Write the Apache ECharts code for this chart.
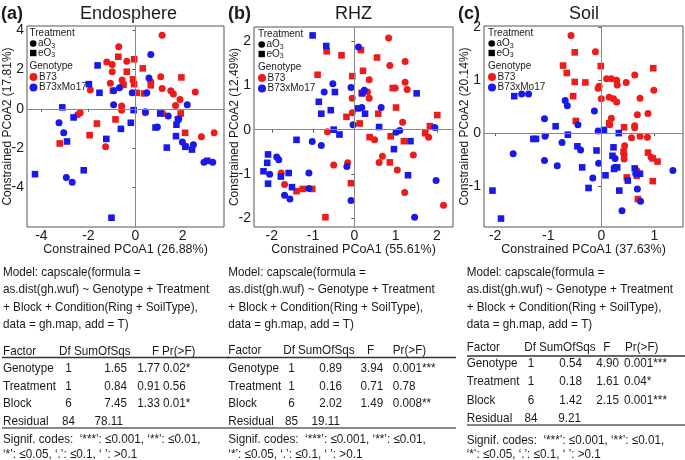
<!DOCTYPE html>
<html>
<head>
<meta charset="utf-8">
<script src="https://cdn.jsdelivr.net/npm/echarts@6/dist/echarts.min.js"></script>
<style>
  html, body { margin: 0; padding: 0; background: #fff; }
  #chart { width: 685px; height: 460px; }
</style>
</head>
<body>
<div id="chart"></div>
<script>
// ---- data: Endosphere ----
const endoB73Amb = [[1.13,3.73],[-0.71,3.15],[-1.22,2.37],[-0.99,2.25],[-0.37,2.41],[-0.99,1.88],[-1.07,1.29],[-0.57,1.46],[-0.54,1.2],[1.07,1.63],[0.65,1.37],[1.13,1.03],[1.5,0.92],[1.61,0.75],[1.89,0.47],[2.54,0.85],[1.7,0.17],[-1.92,0.95],[-2.35,-0.2],[-2.46,-0.31],[-0.59,0.14],[-0.59,-0.07],[0.42,-0.2],[1.16,-0.24],[-1.27,-1.93],[2.8,-1.42],[3.34,-1.22]];
const endoB73Elev = [[-0.73,2.64],[-0.06,2.51],[0.31,2.05],[-0.37,1.88],[-0.11,1.49],[-0.06,1.25],[-0.51,1.22],[-0.96,0.92],[0.06,0.81],[0.37,0.78],[0.65,1.19],[1.95,1.59],[1.92,-0.24],[-0.85,-0.54],[-1.64,-0.75],[-1.95,-1.34],[2.11,-1.22],[-3.22,-1.76]];
const endoHybAmb = [[0.65,2.76],[0.57,1.56],[-0.68,1.07],[-0.93,0.92],[-0.14,0.81],[0.48,0.81],[2.2,0.2],[-0.93,0.2],[0.42,-0.15],[1.39,-0.37],[-3.25,-0.71],[-3.05,-1.22],[1.99,-1.69],[2.12,-1.9],[2.46,-1.83],[2.91,-2.71],[3.28,-2.71],[-2.94,-3.49],[-2.69,-3.73],[0.93,-0.92],[1.84,-0.51]];
const endoHybElev = [[-1.61,2.2],[-1.98,1.25],[-1.53,0.81],[-3.11,0.07],[-2.63,-0.44],[-2.91,-1.66],[-1.24,-1.53],[-0.62,-1.02],[-0.2,-0.71],[-0.08,-0.07],[0.85,-0.95],[1.05,-0.24],[1.33,-1.97],[1.72,-1.39],[1.74,-0.81],[1.8,-0.54],[2.12,-1.93],[2.4,-2.07],[3.05,-2.64],[-4.27,-3.32],[-2.2,-3.12],[-1.02,-5.53]];

// ---- data: RHZ ----
const rhzB73Amb = [[0.83,2.07],[0.86,1.45],[1.23,1.54],[0.36,1.13],[1.23,1.07],[1.28,0.91],[0.99,0.94],[0.32,0.85],[0.36,0.71],[-0.05,0.71],[-0.05,0.38],[1.17,0.17],[-0.65,-0.05],[0.49,-0.23],[0.68,-0.6],[0.6,-0.74],[1.04,-0.91],[1.43,-0.57],[1.8,-0.17],[1.22,-1.42],[2.16,-1.71],[-0.5,-0.8],[-0.16,-0.75],[-1.77,-0.98],[-1.69,-1.24]];
const rhzB73Elev = [[-0.67,1.77],[-0.31,1.68],[0.16,1.8],[0.55,1.63],[0.21,1.33],[-0.89,1.24],[-0.05,1.21],[0.93,0.94],[0.18,0.83],[1.01,0.5],[-0.19,0.29],[0.58,0.36],[0.13,0.14],[2.01,0.33],[1.83,0.08],[1.72,-0.08],[0.37,-0.17],[0.88,-0.15],[1.2,-0.26],[0.86,-0.74],[-0.08,-1.21],[-1.4,-1.39],[-1.25,-1.34],[-1.02,-1.34],[-0.7,-1.98]];
const rhzHybAmb = [[0.1,1.87],[-0.52,1.04],[-0.73,0.85],[-0.08,0.95],[0.24,0.89],[0.18,0.5],[0.65,0.5],[-0.03,0.11],[1.01,-0.06],[1.1,-0.02],[1.95,0.05],[-1.02,-0.27],[-0.8,-0.36],[-0.18,-0.83],[-0.08,-1.6],[-1.1,-0.98],[-1.1,-1.33],[-1.88,-0.62],[-1.83,-0.68],[-2.05,-1.01],[-1.69,-1.48],[-1.56,-1.57],[1.98,-1.15],[1.46,-1.98]];
const rhzHybElev = [[-1.01,2.13],[-0.68,1.89],[-0.47,0.85],[-0.86,0.63],[-0.8,0.36],[-0.57,0.44],[0.19,0.82],[0.08,0.48],[0.26,0.36],[-0.5,0.0],[-0.36,-0.11],[-1.4,-0.23],[0.6,0.06],[1.51,0.82],[0.96,-0.44],[1.36,-0.26],[1.3,-1.03],[-2.09,-0.56],[-2.11,-0.75],[-2.2,-0.94],[-2.09,-1.22],[-1.78,-1.06],[-1.59,-0.98],[-1.51,-1.3]];

// ---- data: Soil ----
const soilB73Amb = [[-0.57,1.85],[-0.11,1.54],[0.1,1.03],[0.19,1.03],[0.29,1.0],[0.47,0.96],[0.63,1.1],[0.99,0.81],[-0.04,0.89],[-0.06,0.85],[0.3,0.91],[0,0.65],[0.15,0.68],[0.23,0.65],[0.29,0.59],[0.73,0.66],[0.68,0.35],[0.88,0.37],[0.19,0.28],[0.16,0.16],[0.63,0.14],[0.63,0.1],[0.57,-0.09],[0.73,-0.06],[0.87,-0.08],[0.44,-0.24],[0.43,-0.41],[0.43,-0.49],[0.94,-0.46],[0.67,-0.71]];
const soilB73Elev = [[-0.5,1.53],[-0.72,1.28],[-0.65,1.14],[-0.5,0.97],[-0.3,0.96],[-0.01,1.27],[-0.53,0.7],[0.98,1.23],[-0.48,0.23],[0.15,0.19],[0.43,0.11],[0.42,-0.35],[0.88,-0.37],[0.97,-0.48],[1.06,-0.54],[0.48,-0.84],[0.67,-0.81],[0.97,-0.91],[0.69,-1.25]];
const soilHybAmb = [[-1.5,0.74],[-1.37,0.74],[-0.68,0.62],[-0.64,0.52],[-1.07,0.27],[-0.44,0.16],[-0.13,0.42],[-0.06,0.04],[-1.06,-0.06],[-0.74,-0.18],[-0.39,-0.32],[-1.66,-0.39],[-1.07,-0.52],[-0.83,-0.62],[-0.16,-0.85],[-0.05,-0.57],[0.26,-0.48],[0.65,-0.77],[0.68,-1.06],[0.74,-1.29],[0.39,-1.47],[1.35,-0.71],[0.25,-0.65]];
const soilHybElev = [[-1.64,0.7],[-0.86,0.13],[-0.63,-0.03],[-1.28,-0.11],[-1.23,-0.11],[0.05,0.06],[0.33,0.0],[-0.45,-0.25],[-0.36,-0.65],[-0.09,-0.33],[0.23,-0.27],[0.21,-0.43],[0.3,-0.65],[0.24,-0.68],[0.08,-0.8],[0.5,-0.9],[0.63,-0.67],[0.73,-0.77],[-0.24,-1.04],[0.34,-1.09],[-2.05,-1.09],[-1.89,-1.62]];

// ---- ticks ----
const endoXTicks = [-4, -2, 0, 2];
const endoYTicks = [-4, -2, 0, 2, 4];
const rhzXTicks = [-2, -1, 0, 1, 2];
const rhzYTicks = [-2, -1, 0, 1, 2];
const soilXTicks = [-2, -1, 0, 1];
const soilYTicks = [-1, 0, 1, 2];

// ---- tables ----
const factors = ['Genotype', 'Treatment', 'Block', 'Residual'];
const endoDf = ['1', '1', '6', '84'];
const endoSS = ['1.65', '0.84', '7.45', '78.11'];
const endoF = ['1.77', '0.91', '1.33', ''];
const endoP = ['0.02*', '0.56', '0.01*', ''];
const rhzDf = ['1', '1', '6', '85'];
const rhzSS = ['0.89', '0.16', '2.02', '19.11'];
const rhzF = ['3.94', '0.71', '1.49', ''];
const rhzP = ['0.001***', '0.78', '0.008**', ''];
const soilDf = ['1', '1', '6', '84'];
const soilSS = ['0.54', '0.18', '1.42', '9.21'];
const soilF = ['4.90', '1.61', '2.15', ''];
const soilP = ['0.001***', '0.04*', '0.001***', ''];

const modelLines = [
  'Model: capscale(formula =',
  'as.dist(gh.wuf) ~ Genotype + Treatment',
  '+ Block + Condition(Ring + SoilType),',
  'data = gh.map, add = T)'
];
const signifLines = [
  'Signif. codes:  \u2018***\u2019: \u22640.001, \u2018**\u2019: \u22640.01,',
  '\u2018*\u2019: \u22640.05, \u2018.\u2019: \u22640.1, \u2018 \u2019: >0.1'
];

const RED = '#ee1b1b';
const BLUE = '#1a1ae8';
const INK = '#1a1a1a';
const FONT = '"Liberation Sans", Arial, sans-serif';

const panels = [
  {
    tag: '(a)', title: 'Endosphere', titleX: 128.5,
    grid: { left: 27, top: 26, width: 197, height: 201 },
    x: [-4.61, 3.76], y: [-6.0, 4.2], xt: endoXTicks, yt: endoYTicks,
    xName: 'Constrained PCoA1 (26.88%)', yName: 'Constrained PCoA2 (17.81%)',
    sets: [endoB73Amb, endoB73Elev, endoHybAmb, endoHybElev],
    df: endoDf, ss: endoSS, f: endoF, p: endoP,
    textX: 3, lineX: [2, 229],
    cols: { df: 59, dfC: 68.5, ssH: 74, ss: 127, ssR: 123, fH: 152, f: 160, pH: 162, pv: 163 },
    rows: { head: 351, vals: [368.5, 386.3, 403.8, 421.3], l1: 357.5, l2: 428, sig: [439.5, 454] }
  },
  {
    tag: '(b)', title: 'RHZ', titleX: 353.5,
    grid: { left: 254, top: 27, width: 199, height: 200 },
    x: [-2.43, 2.39], y: [-2.2, 2.32], xt: rhzXTicks, yt: rhzYTicks,
    xName: 'Constrained PCoA1 (55.61%)', yName: 'Constrained PCoA2 (12.49%)',
    sets: [rhzB73Amb, rhzB73Elev, rhzHybAmb, rhzHybElev],
    df: rhzDf, ss: rhzSS, f: rhzF, p: rhzP,
    textX: 228.3, lineX: [227, 456],
    cols: { df: 283.3, dfC: 291.5, ssH: 298, ss: 342, ssR: 340, fH: 367, f: 383.3, pH: 392.7, pv: 392.7 },
    rows: { head: 350.5, vals: [368.3, 386, 403.5, 421], l1: 357.5, l2: 428, sig: [439.5, 454] }
  },
  {
    tag: '(c)', title: 'Soil', titleX: 584,
    grid: { left: 484, top: 26, width: 199, height: 201 },
    x: [-2.21, 1.54], y: [-1.78, 2.03], xt: soilXTicks, yt: soilYTicks,
    xName: 'Constrained PCoA1 (37.63%)', yName: 'Constrained PCoA2 (20.14%)',
    sets: [soilB73Amb, soilB73Elev, soilHybAmb, soilHybElev],
    df: soilDf, ss: soilSS, f: soilF, p: soilP,
    textX: 466.7, lineX: [467, 685],
    cols: { df: 524.3, dfC: 531, ssH: 539, ss: 582, ssR: 581, fH: 603.3, f: 619, pH: 625, pv: 624 },
    rows: { head: 347, vals: [363.5, 381.7, 400.3, 418.3], l1: 356, l2: 425, sig: [440, 454] }
  }
];

const chart = echarts.init(document.getElementById('chart'));

const grids = [], xAxes = [], yAxes = [], series = [], graphic = [];

// 文本元素
const txt = (x, y, text, opt = {}) => ({
  type: 'text', x, y, silent: true,
  scaleX: opt.scaleX || 1,
  style: {
    text, fill: INK, fontFamily: FONT,
    fontSize: opt.size || 13, fontWeight: opt.weight || 'normal',
    align: opt.align || 'left', verticalAlign: 'middle'
  }
});

const SX = 0.9; // 下方文字稍窄

panels.forEach((p, i) => {
  grids.push(Object.assign({
    show: true, borderColor: '#555', borderWidth: 1, backgroundColor: '#fff',
    containLabel: false, outerBoundsMode: 'none'
  }, p.grid));

  xAxes.push({
    gridIndex: i, type: 'value', min: p.x[0], max: p.x[1],
    name: p.xName, nameLocation: 'middle', nameGap: 16, nameMoveOverlap: false,
    nameTextStyle: { fontSize: 12.5, color: INK, fontFamily: FONT },
    axisLine: { show: false },
    axisTick: { show: true, customValues: p.xt, length: 3, lineStyle: { color: '#555' } },
    axisLabel: { customValues: p.xt, fontSize: 14, color: INK, margin: 2, fontFamily: FONT },
    splitLine: { show: false }
  });
  yAxes.push({
    gridIndex: i, type: 'value', min: p.y[0], max: p.y[1],
    name: p.yName, nameLocation: 'middle', nameGap: 13, nameMoveOverlap: false,
    nameTextStyle: { fontSize: 12, color: INK, fontFamily: FONT },
    axisLine: { show: false },
    axisTick: { show: true, customValues: p.yt, length: 3, lineStyle: { color: '#555' } },
    axisLabel: { customValues: p.yt, fontSize: 14, color: INK, margin: 3, fontFamily: FONT },
    splitLine: { show: false }
  });

  const styles = [
    { symbol: 'circle', color: RED, size: 7 },
    { symbol: 'rect', color: RED, size: 6.6 },
    { symbol: 'circle', color: BLUE, size: 7 },
    { symbol: 'rect', color: BLUE, size: 6.6 }
  ];
  p.sets.forEach((data, k) => {
    const s = {
      type: 'scatter', xAxisIndex: i, yAxisIndex: i, data,
      symbol: styles[k].symbol, symbolSize: styles[k].size,
      itemStyle: { color: styles[k].color, opacity: 1 }
    };
    if (k === 0) {
      s.markLine = {
        silent: true, symbol: 'none', label: { show: false },
        lineStyle: { color: '#888', width: 1, type: 'solid' },
        data: [{ xAxis: 0 }, { yAxis: 0 }]
      };
    }
    series.push(s);
  });

  // 标题
  graphic.push(txt(p.grid.left - 26, 14, p.tag, { size: 18, weight: 'bold' }));
  graphic.push(txt(p.titleX, 14, p.title, { size: 18, align: 'center' }));

  // 图例
  const gx = p.grid.left + (i === 0 ? 2.5 : 4), gy = p.grid.top;
  graphic.push(txt(gx, gy + 7, 'Treatment', { size: 10 }));
  graphic.push({ type: 'circle', silent: true, shape: { cx: gx + 3.7, cy: gy + 17.5, r: 3.3 }, style: { fill: '#000' } });
  graphic.push(txt(gx + 8.5, gy + 17.5, 'aO', { size: 10 }));
  graphic.push(txt(gx + 21.8, gy + 20, '3', { size: 7 }));
  graphic.push({ type: 'rect', silent: true, shape: { x: gx + 0.5, y: gy + 23.8, width: 6.4, height: 6.4 }, style: { fill: '#000' } });
  graphic.push(txt(gx + 8.5, gy + 27, 'eO', { size: 10 }));
  graphic.push(txt(gx + 21.8, gy + 29.5, '3', { size: 7 }));
  graphic.push(txt(gx, gy + 40, 'Genotype', { size: 10 }));
  graphic.push({ type: 'circle', silent: true, shape: { cx: gx + 4, cy: gy + 51, r: 4 }, style: { fill: RED } });
  graphic.push(txt(gx + 9.5, gy + 51, 'B73', { size: 10 }));
  graphic.push({ type: 'circle', silent: true, shape: { cx: gx + 4, cy: gy + 61.5, r: 4 }, style: { fill: BLUE } });
  graphic.push(txt(gx + 9.5, gy + 61.5, 'B73xMo17', { size: 10 }));

  // 模型说明
  const my = [272, 289.5, 307, 324.5];
  modelLines.forEach((t, j) => graphic.push(txt(p.textX, my[j], t, { scaleX: SX })));

  // 方差分析表
  const c = p.cols, r = p.rows;
  graphic.push(txt(p.textX, r.head, 'Factor', { scaleX: SX }));
  graphic.push(txt(c.df, r.head, 'Df', { scaleX: SX }));
  graphic.push(txt(c.ssH, r.head, 'SumOfSqs', { scaleX: SX }));
  graphic.push(txt(c.fH, r.head, 'F', { scaleX: SX }));
  graphic.push(txt(c.pH, r.head, 'Pr(>F)', { scaleX: SX }));
  graphic.push({ type: 'line', silent: true, shape: { x1: p.lineX[0], y1: r.l1, x2: p.lineX[1], y2: r.l1 }, style: { stroke: '#333', lineWidth: 1.5 } });
  factors.forEach((fac, j) => {
    const y = r.vals[j];
    graphic.push(txt(p.textX, y, fac, { scaleX: SX }));
    graphic.push(txt(c.dfC, y, p.df[j], { scaleX: SX, align: 'center' }));
    graphic.push(txt(j === 3 ? c.ssR : c.ss, y, p.ss[j], { scaleX: SX, align: 'right' }));
    if (p.f[j]) graphic.push(txt(c.f, y, p.f[j], { scaleX: SX, align: 'right' }));
    if (p.p[j]) graphic.push(txt(c.pv, y, p.p[j], { scaleX: SX }));
  });
  graphic.push({ type: 'line', silent: true, shape: { x1: p.lineX[0], y1: r.l2, x2: p.lineX[1], y2: r.l2 }, style: { stroke: '#888', lineWidth: 2 } });
  signifLines.forEach((t, j) => graphic.push(txt(p.textX, r.sig[j], t, { scaleX: SX })));
});

chart.setOption({
  backgroundColor: '#fff',
  animation: false,
  grid: grids,
  xAxis: xAxes,
  yAxis: yAxes,
  series,
  graphic
});
</script>
</body>
</html>
